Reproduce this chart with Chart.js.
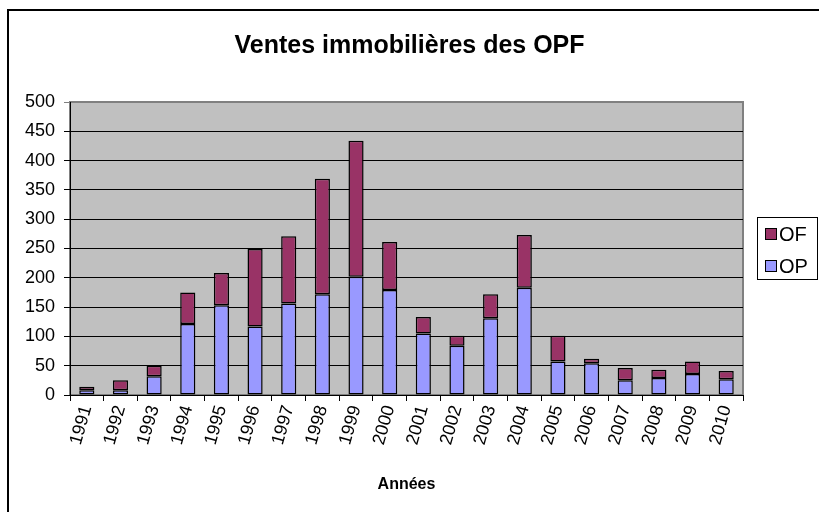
<!DOCTYPE html>
<html>
<head>
<meta charset="utf-8">
<script src="https://cdn.jsdelivr.net/npm/chart.js@4/dist/chart.umd.min.js"></script>
<style>
  html, body { margin: 0; padding: 0; background: #fff; }
  #wrap { width: 819px; height: 512px; position: relative; }
</style>
</head>
<body>
<div id="wrap"><canvas id="ventes"></canvas></div>
<script>
// Données
var annees = ['1991', '1992', '1993', '1994', '1995', '1996', '1997', '1998', '1999', '2000',
              '2001', '2002', '2003', '2004', '2005', '2006', '2007', '2008', '2009', '2010'];
var ventesOP = [8, 8, 32, 121, 153, 117, 156, 172, 202, 179, 105, 84, 131, 183, 57, 54, 25, 29, 36, 27];
var ventesOF = [6, 17, 18, 54, 55, 132, 115, 197, 232, 82, 28, 17, 41, 90, 44, 8, 21, 14, 21, 14];
var graduations = [0, 50, 100, 150, 200, 250, 300, 350, 400, 450, 500];

var couleurOP = '#9999FF';
var couleurOF = '#993366';
var police = "'Liberation Sans', Arial, sans-serif";

Chart.defaults.font.family = police;
Chart.defaults.color = '#000';

// Cadre extérieur + fond gris de la zone de tracé
var fondPlugin = {
  id: 'fond',
  beforeDraw: function (chart) {
    var ctx = chart.ctx, a = chart.chartArea;
    ctx.save();
    ctx.strokeStyle = '#000';
    ctx.lineWidth = 2;
    ctx.strokeRect(8, 10, 840, 540);
    ctx.fillStyle = '#C0C0C0';
    ctx.fillRect(a.left, a.top, a.right - a.left, a.bottom - a.top);
    ctx.strokeStyle = '#808080';
    ctx.lineWidth = 2;
    ctx.strokeRect(a.left, a.top, a.right - a.left, a.bottom - a.top);
    ctx.restore();
  }
};

// Légende encadrée à droite (OF au-dessus, OP en dessous)
var legendePlugin = {
  id: 'legende',
  afterDraw: function (chart) {
    var ctx = chart.ctx;
    var items = [chart.data.datasets[1], chart.data.datasets[0]];
    ctx.save();
    ctx.fillStyle = '#fff';
    ctx.fillRect(757, 217, 60, 62);
    ctx.strokeStyle = '#000';
    ctx.lineWidth = 1;
    ctx.strokeRect(757.5, 217.5, 60, 62);
    ctx.font = '20px ' + police;
    ctx.textBaseline = 'middle';
    for (var i = 0; i < items.length; i++) {
      var y = 234 + i * 32;
      ctx.fillStyle = items[i].backgroundColor;
      ctx.fillRect(765, y - 6, 12, 12);
      ctx.strokeRect(765.5, y - 5.5, 11, 11);
      ctx.fillStyle = '#000';
      ctx.fillText(items[i].label, 779, y + 1);
    }
    ctx.restore();
  }
};

var ctx = document.getElementById('ventes').getContext('2d');
var graphique = new Chart(ctx, {
  type: 'bar',
  data: {
    labels: annees,
    datasets: [{
      label: 'OP',
      data: ventesOP,
      backgroundColor: couleurOP,
      borderColor: '#000',
      borderWidth: 1.5,
      borderSkipped: false,
      barPercentage: 0.45,
      categoryPercentage: 1
    }, {
      label: 'OF',
      data: ventesOF,
      backgroundColor: couleurOF,
      borderColor: '#000',
      borderWidth: 1.5,
      borderSkipped: false,
      barPercentage: 0.45,
      categoryPercentage: 1
    }]
  },
  options: {
    responsive: true,
    maintainAspectRatio: false,
    animation: false,
    layout: { padding: 0 },
    plugins: {
      legend: { display: false },
      tooltip: { enabled: false },
      title: {
        display: true,
        text: 'Ventes immobilières des OPF',
        font: { size: 25, weight: 'bold' },
        color: '#000',
        padding: { top: 31, bottom: 41 }
      }
    },
    scales: {
      x: {
        stacked: true,
        offset: true,
        grid: {
          offset: true,
          drawOnChartArea: false,
          drawTicks: true,
          tickLength: 6,
          color: '#000'
        },
        border: { color: '#000' },
        ticks: {
          font: { size: 18 },
          minRotation: 74,
          maxRotation: 74,
          padding: 2,
          autoSkip: false
        },
        title: {
          display: true,
          text: 'Années',
          font: { size: 16, weight: 'bold' },
          padding: { top: 4, bottom: 18 }
        },
        afterFit: function (scale) { scale.height = 117; }
      },
      y: {
        stacked: true,
        min: 0,
        max: 500,
        afterBuildTicks: function (scale) {
          scale.ticks = graduations.map(function (v) { return { value: v }; });
        },
        grid: {
          color: function (c) { return c.tick && c.tick.value === 500 ? '#808080' : '#000'; },
          tickLength: 6
        },
        border: { color: '#000' },
        ticks: { font: { size: 18 }, padding: 9 },
        afterFit: function (scale) { scale.width = 70; }
      },
      // axe vide à droite : réserve la place de la légende
      reserve: {
        type: 'linear',
        position: 'right',
        display: true,
        grid: { display: false },
        border: { display: false },
        ticks: { display: false },
        afterFit: function (scale) { scale.width = 76; }
      }
    }
  },
  plugins: [fondPlugin, legendePlugin]
});
</script>
</body>
</html>
